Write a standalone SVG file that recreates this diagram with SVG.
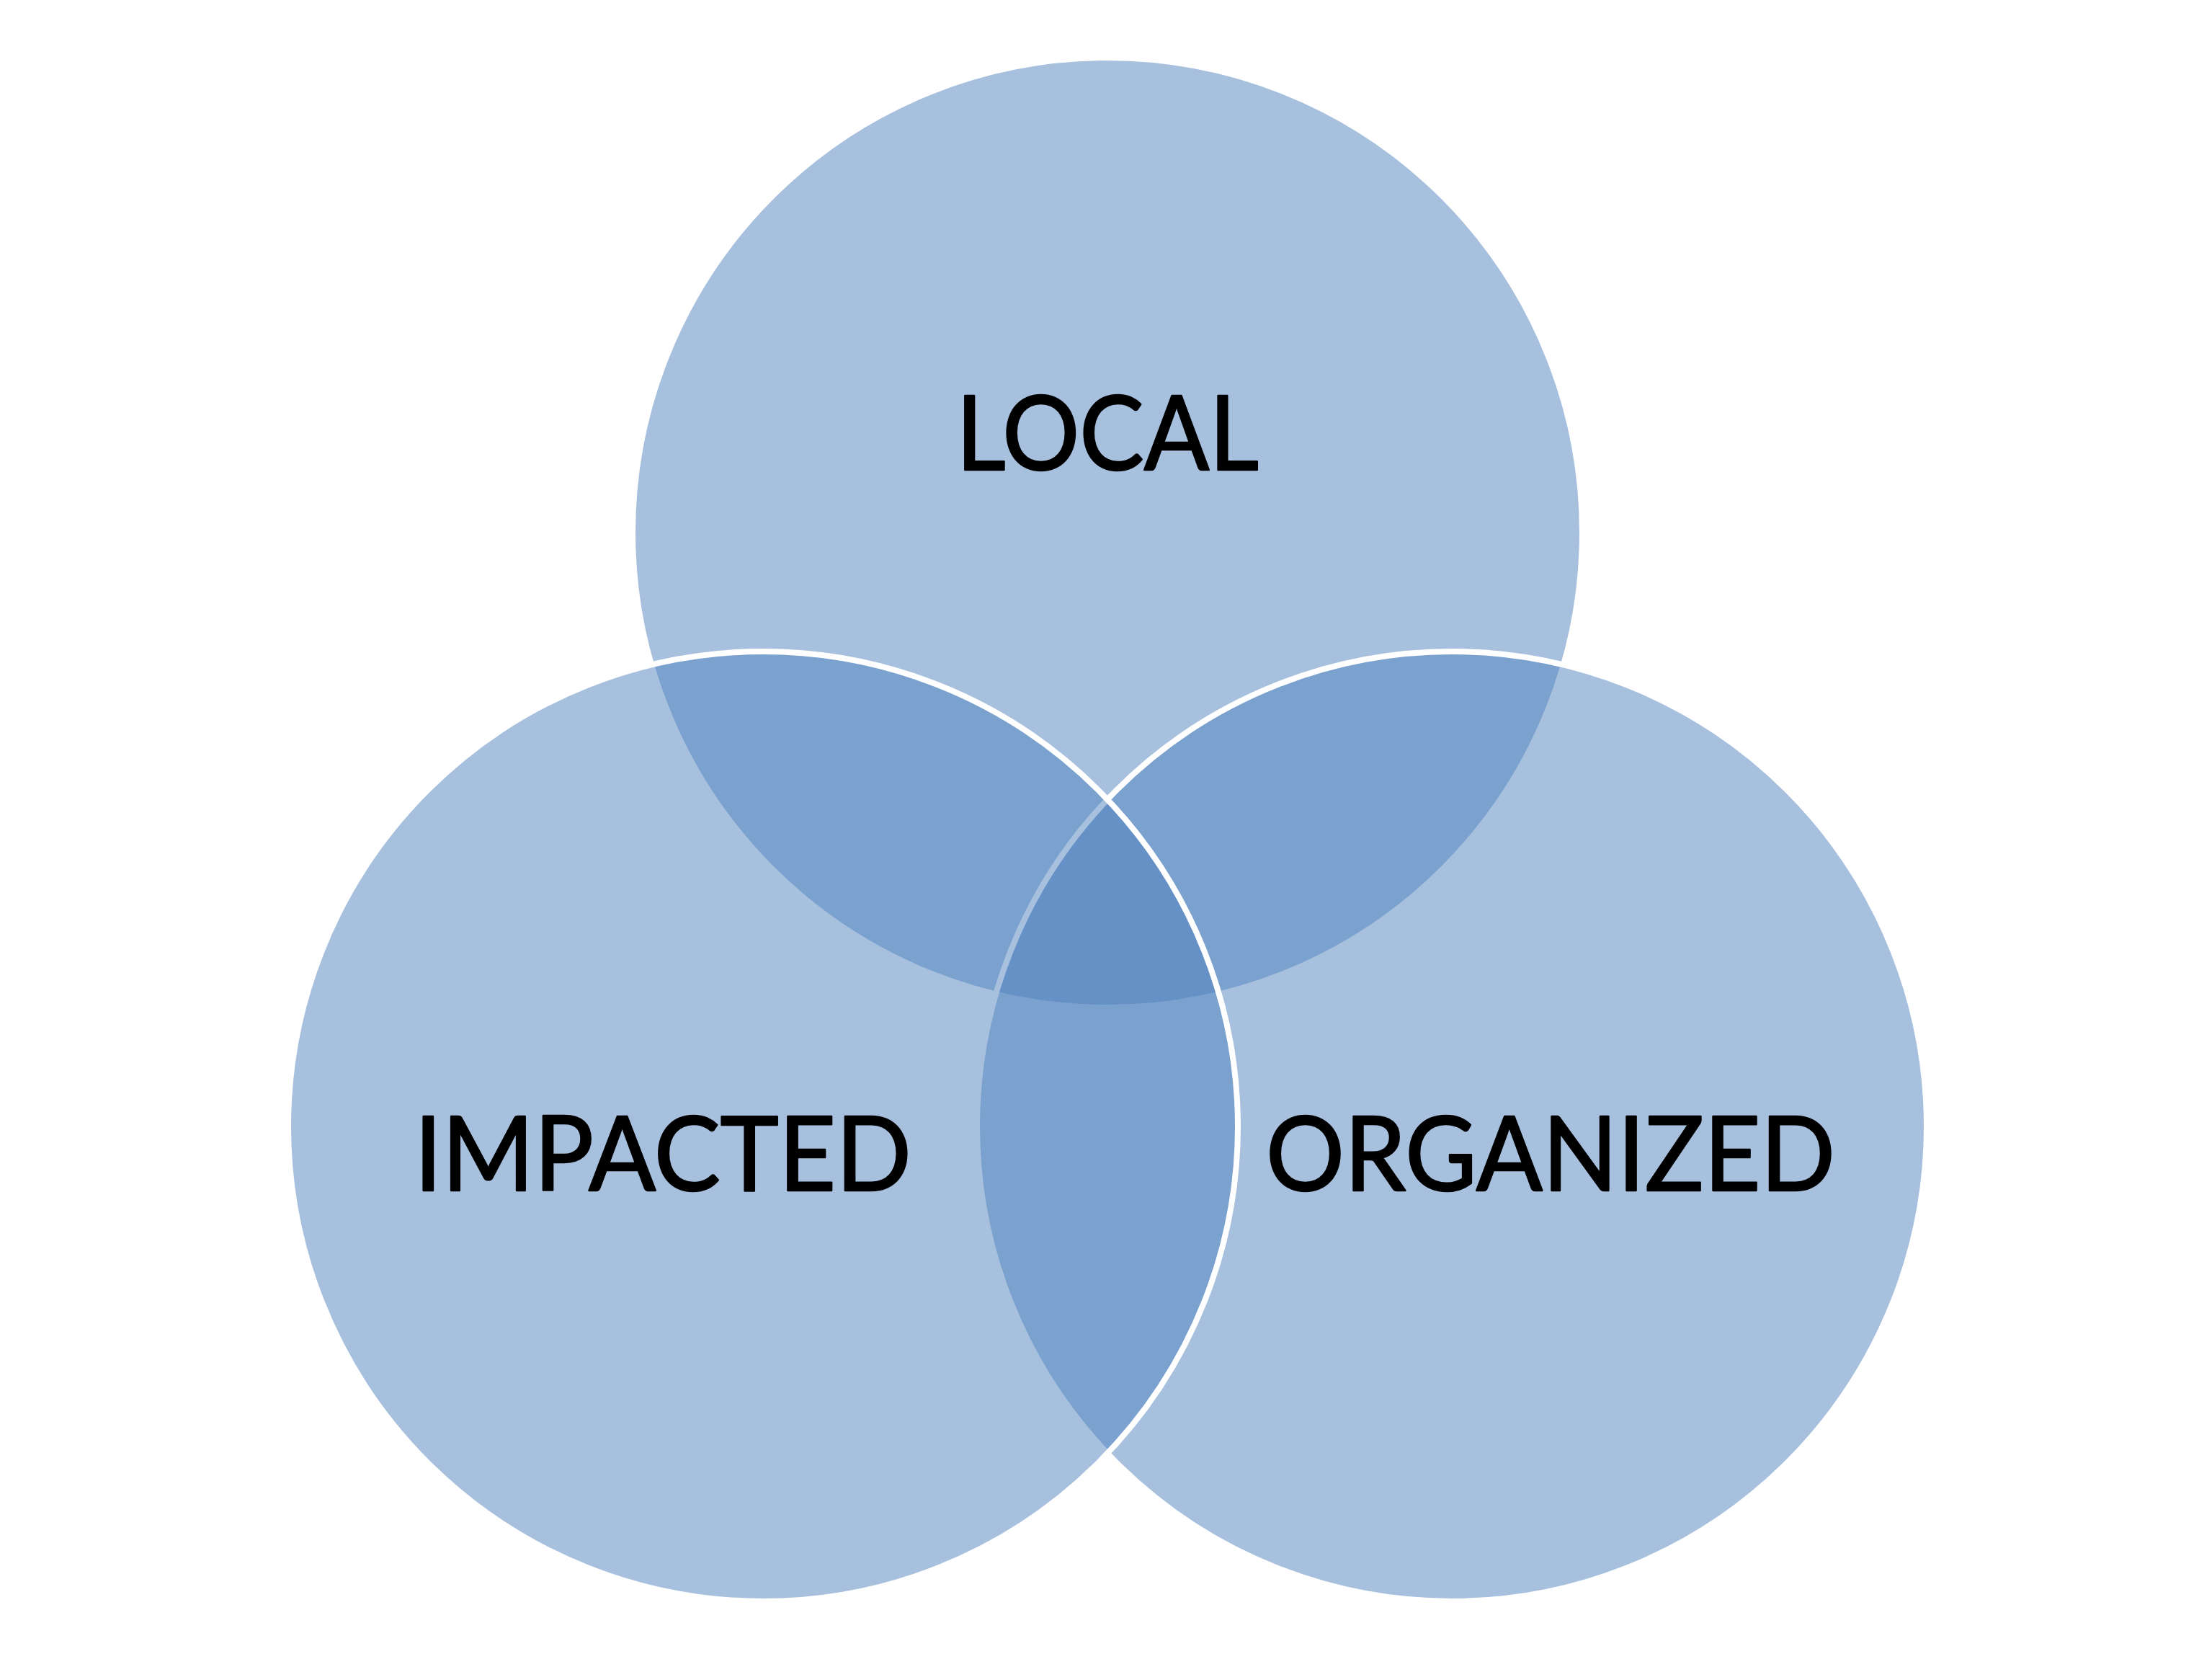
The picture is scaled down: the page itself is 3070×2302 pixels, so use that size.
<svg xmlns="http://www.w3.org/2000/svg" width="3070" height="2302" viewBox="0 0 3070 2302">
  <style>
    .set { fill: #4F81BD; fill-opacity: 0.5; stroke: #FFFFFF; stroke-width: 8; }
    .label { font-family: Lato, "Open Sans", "Liberation Sans", sans-serif; font-size: 144px; fill: #000000; stroke: #000000; stroke-width: 2.5; stroke-linejoin: round; text-anchor: middle; }
  </style>
  <rect x="0" y="0" width="3070" height="2302" fill="#FFFFFF"/>
  <g id="local">
    <circle class="set" cx="1537" cy="739" r="659"/>
    <text class="label" x="1537" y="652" textLength="420" lengthAdjust="spacingAndGlyphs">LOCAL</text>
  </g>
  <g id="organized">
    <circle class="set" cx="2015" cy="1563" r="659"/>
    <text class="label" x="2152" y="1652" textLength="790" lengthAdjust="spacingAndGlyphs">ORGANIZED</text>
  </g>
  <g id="impacted">
    <circle class="set" cx="1059" cy="1563" r="659"/>
    <text class="label" x="920" y="1652" textLength="690" lengthAdjust="spacingAndGlyphs">IMPACTED</text>
  </g>
  <g id="connectors"></g>
</svg>
